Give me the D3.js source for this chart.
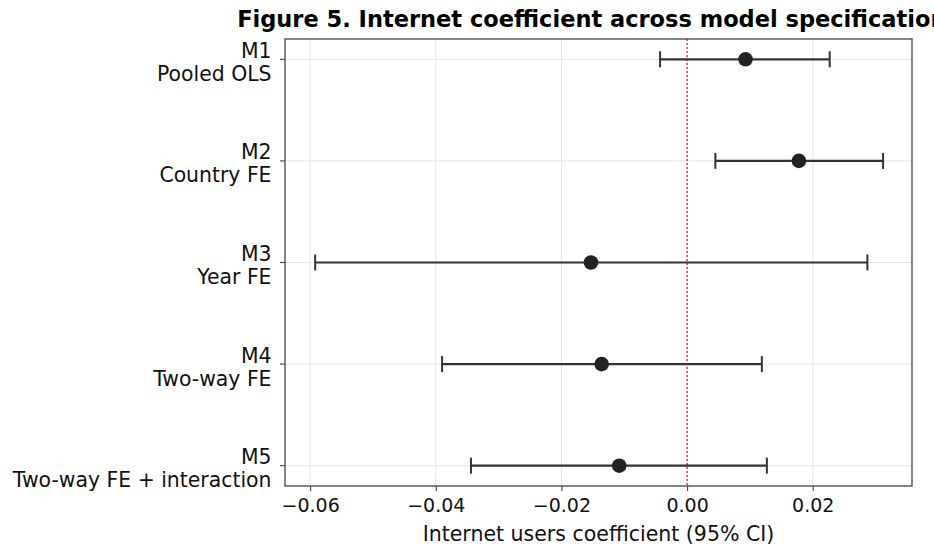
<!DOCTYPE html>
<html>
<head>
<meta charset="utf-8">
<script src="https://cdn.jsdelivr.net/npm/d3@7"></script>
<style>
  body { margin: 0; background: #fff; }
  svg { display: block; font-family: "DejaVu Sans", sans-serif; }
</style>
</head>
<body>
<div id="chart"></div>
<script>
// model specifications (top to bottom)
const models = ['M1', 'M2', 'M3', 'M4', 'M5'];
const modelNames = ['Pooled OLS', 'Country FE', 'Year FE', 'Two-way FE', 'Two-way FE + interaction'];
const coef = [0.0093, 0.0178, -0.0153, -0.0136, -0.0108];
const ciLow = [-0.0043, 0.0045, -0.0592, -0.0390, -0.0344];
const ciHigh = [0.0227, 0.0312, 0.0287, 0.0119, 0.0127];
const xTicks = [-0.06, -0.04, -0.02, 0.00, 0.02];

const W = 934, H = 546;
const MARGIN = { top: 39, right: 22, bottom: 60, left: 285 };
const innerW = W - MARGIN.left - MARGIN.right;
const innerH = H - MARGIN.top - MARGIN.bottom;

const rows = models.map((m, i) => ({
  model: m, name: modelNames[i], coef: coef[i], lo: ciLow[i], hi: ciHigh[i]
}));

const svg = d3.select('#chart').append('svg')
  .attr('width', W)
  .attr('height', H);

const x = d3.scaleLinear().domain([-0.064, 0.0358]).range([0, innerW]);
// matplotlib-style 5% padding on the category axis
const y = d3.scaleLinear().domain([-0.2, models.length - 0.8]).range([0, innerH]);

const g = svg.append('g').attr('transform', `translate(${MARGIN.left}, ${MARGIN.top})`);

// grid
g.selectAll('.xgrid').data(xTicks).join('line')
  .attr('x1', d => x(d)).attr('x2', d => x(d))
  .attr('y1', 0).attr('y2', innerH)
  .attr('stroke', '#e6e6e6').attr('stroke-width', 1);

g.selectAll('.ygrid').data(rows).join('line')
  .attr('x1', 0).attr('x2', innerW)
  .attr('y1', (d, i) => y(i)).attr('y2', (d, i) => y(i))
  .attr('stroke', '#e6e6e6').attr('stroke-width', 1);

// zero reference
g.append('line')
  .attr('x1', x(0)).attr('x2', x(0))
  .attr('y1', 0).attr('y2', innerH)
  .attr('stroke', '#d62728').attr('stroke-width', 1.3)
  .attr('stroke-dasharray', '2,2');

// error bars
const bars = g.selectAll('.bar').data(rows).join('g')
  .attr('transform', (d, i) => `translate(0, ${y(i)})`);

bars.append('line')
  .attr('x1', d => x(d.lo)).attr('x2', d => x(d.hi))
  .attr('stroke', '#333').attr('stroke-width', 2.2);

bars.selectAll('.cap').data(d => [d.lo, d.hi]).join('line')
  .attr('x1', v => x(v)).attr('x2', v => x(v))
  .attr('y1', -8).attr('y2', 8)
  .attr('stroke', '#333').attr('stroke-width', 2);

bars.append('circle')
  .attr('cx', d => x(d.coef))
  .attr('r', 7.3)
  .attr('fill', '#222');

// frame
g.append('rect')
  .attr('width', innerW).attr('height', innerH)
  .attr('fill', 'none').attr('stroke', '#444').attr('stroke-width', 1.3);

// x axis
const xAxis = g.append('g').attr('transform', `translate(0, ${innerH})`)
  .call(d3.axisBottom(x).tickValues(xTicks).tickSize(5).tickPadding(8)
    .tickFormat(d => d3.format('.2f')(d).replace('-', '\u2212')));
xAxis.select('.domain').remove();
xAxis.selectAll('line').attr('stroke', '#444').attr('stroke-width', 1.1);
xAxis.selectAll('text')
  .attr('font-family', '"DejaVu Sans", sans-serif')
  .attr('font-size', 19).attr('fill', '#111');

// y ticks + two-line labels
const yAxis = g.append('g');
yAxis.selectAll('line').data(rows).join('line')
  .attr('x1', -5).attr('x2', 0)
  .attr('y1', (d, i) => y(i)).attr('y2', (d, i) => y(i))
  .attr('stroke', '#444').attr('stroke-width', 1.1);

const ylab = yAxis.selectAll('text').data(rows).join('text')
  .attr('text-anchor', 'end')
  .attr('font-family', '"DejaVu Sans", sans-serif')
  .attr('font-size', 20.4)
  .attr('fill', '#111');
ylab.append('tspan')
  .attr('x', -13.5).attr('y', (d, i) => y(i) - 1.5)
  .text(d => d.model);
ylab.append('tspan')
  .attr('x', -13.5).attr('y', (d, i) => y(i) + 21.5)
  .text(d => d.name);

// axis title
svg.append('text')
  .attr('x', MARGIN.left + innerW / 2).attr('y', H - 5)
  .attr('text-anchor', 'middle')
  .attr('font-size', 20.5).attr('fill', '#111')
  .text('Internet users coefficient (95% CI)');

// chart title
svg.append('text')
  .attr('x', MARGIN.left + innerW / 2).attr('y', 26.5)
  .attr('text-anchor', 'middle')
  .attr('font-size', 22.5).attr('font-weight', 'bold').attr('fill', '#000')
  .text('Figure 5. Internet coefficient across model specifications');
</script>
</body>
</html>
